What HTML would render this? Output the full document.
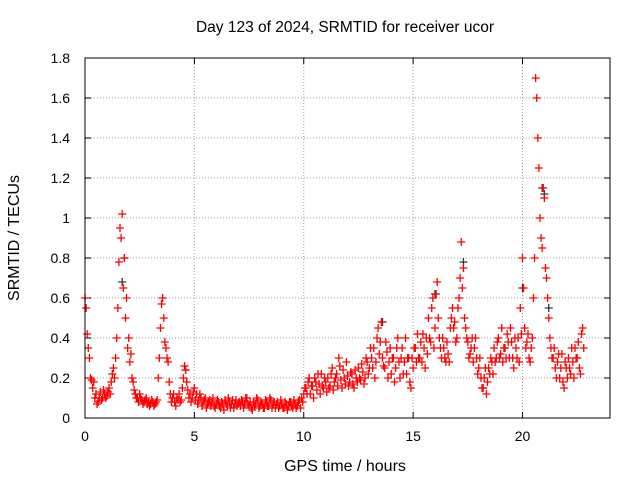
<!DOCTYPE html>
<html><head><meta charset="utf-8"><style>
body{margin:0;background:#fff;}
svg{display:block;font-family:"Liberation Sans",sans-serif;}
</style></head><body>
<svg id="chart" width="640" height="480">
<text x="345" y="32" text-anchor="middle" font-size="15.5">Day 123 of 2024, SRMTID for receiver ucor</text>
<text x="345" y="471" text-anchor="middle" font-size="16">GPS time / hours</text>
<text x="0" y="0" transform="translate(19,238) rotate(-90)" text-anchor="middle" font-size="16">SRMTID / TECUs</text>
<g id="grid"></g><g id="marks"></g>
<rect x="85" y="58" width="525" height="360" fill="none" stroke="#000" stroke-width="1"/>
</svg>
<script>
const xTicks=[0,5,10,15,20];
const yTicks=[0,0.2,0.4,0.6,0.8,1,1.2,1.4,1.6,1.8];
const yTickLabels=["0","0.2","0.4","0.6","0.8","1","1.2","1.4","1.6","1.8"];
const seriesAStart=0, step=0.1;
const seriesA=[0.6,0.42,0.3,0.19,0.18,0.12,0.08,0.13,0.1,0.12,0.11,
0.15,0.18,0.25,0.3,0.55,0.95,1.02,0.8,0.6,0.4,
0.32,0.18,0.12,0.1,0.12,0.09,0.08,0.1,0.08,0.07,
0.08,0.07,0.09,0.3,0.57,0.5,0.35,0.28,0.12,0.1,
0.08,0.1,0.12,0.09,0.2,0.24,0.14,0.12,0.1,0.15,
0.12,0.09,0.1,0.08,0.1,0.07,0.09,0.08,0.06,0.07,
0.08,0.05,0.07,0.09,0.06,0.08,0.07,0.05,0.09,0.07,
0.06,0.08,0.07,0.1,0.06,0.05,0.08,0.07,0.09,0.06,
0.07,0.05,0.08,0.06,0.09,0.07,0.05,0.08,0.06,0.07,
0.05,0.07,0.06,0.08,0.05,0.07,0.06,0.09,0.1,0.12,
0.15,0.18,0.12,0.16,0.2,0.14,0.17,0.22,0.15,0.18,
0.2,0.16,0.25,0.18,0.22,0.3,0.19,0.24,0.17,0.21,
0.18,0.22,0.15,0.2,0.25,0.19,0.23,0.2,0.28,0.25,
0.3,0.35,0.28,0.45,0.38,0.3,0.25,0.33,0.28,0.22,
0.3,0.25,0.4,0.2,0.35,0.28,0.22,0.3,0.15,0.25,
0.35,0.42,0.3,0.28,0.35,0.4,0.5,0.38,0.6,0.45,
0.68,0.4,0.3,0.35,0.28,0.32,0.45,0.55,0.48,0.4,
0.6,0.88,0.75,0.45,0.38,0.32,0.4,0.35,0.3,0.25,
0.2,0.15,0.25,0.18,0.22,0.28,0.35,0.3,0.4,0.32,
0.28,0.35,0.42,0.3,0.38,0.25,0.35,0.4,0.55,0.8,
0.45,0.38,0.3,0.35,0.6,1.7,1.4,1.0,0.85,1.1,
0.7,0.5,0.35,0.3,0.25,0.28,0.2,0.32,0.15,0.25,
0.3,0.22,0.28,0.35,0.3,0.25,0.42,0.35];
const seriesBStart=0.05;
const seriesB=[0.55,0.35,0.2,0.15,0.1,0.07,0.1,0.09,0.14,0.1,0.13,
0.12,0.22,0.2,0.4,0.78,0.9,0.65,0.5,0.35,0.28,
0.2,0.14,0.1,0.08,0.1,0.07,0.09,0.07,0.06,0.09,
0.06,0.08,0.2,0.45,0.6,0.38,0.3,0.18,0.08,0.12,
0.06,0.09,0.08,0.15,0.26,0.18,0.1,0.08,0.13,0.09,
0.07,0.12,0.06,0.09,0.05,0.08,0.06,0.1,0.05,0.09,
0.06,0.08,0.04,0.07,0.1,0.05,0.09,0.07,0.06,0.08,
0.09,0.05,0.1,0.07,0.08,0.04,0.06,0.1,0.05,0.08,
0.05,0.09,0.06,0.1,0.05,0.08,0.07,0.05,0.09,0.05,
0.08,0.04,0.08,0.06,0.09,0.05,0.08,0.05,0.08,0.15,
0.12,0.2,0.16,0.1,0.18,0.22,0.12,0.16,0.2,0.13,
0.15,0.22,0.14,0.2,0.16,0.26,0.15,0.2,0.28,0.16,
0.23,0.17,0.24,0.18,0.2,0.27,0.17,0.3,0.22,0.35,
0.25,0.2,0.4,0.32,0.48,0.26,0.38,0.2,0.35,0.3,
0.18,0.35,0.28,0.3,0.22,0.4,0.3,0.18,0.3,0.35,
0.28,0.3,0.38,0.42,0.25,0.32,0.4,0.55,0.35,0.62,
0.5,0.35,0.4,0.3,0.38,0.28,0.5,0.45,0.38,0.55,
0.7,0.65,0.5,0.4,0.3,0.35,0.28,0.4,0.22,0.3,
0.15,0.2,0.12,0.25,0.3,0.22,0.28,0.38,0.3,0.45,
0.35,0.3,0.38,0.45,0.3,0.4,0.3,0.28,0.42,0.65,
0.35,0.42,0.28,0.4,0.8,1.6,1.25,0.9,1.15,0.75,
0.6,0.4,0.3,0.35,0.2,0.32,0.25,0.18,0.28,0.2,
0.25,0.35,0.2,0.3,0.38,0.22,0.45];
const blackTimes=[1.7,1.8,4.6,13.6,16.0,17.3,20.0,20.9,21.0,21.2];
const blackValues=[0.68,0.8,0.24,0.48,0.62,0.78,0.65,1.15,1.12,0.55];

const X0=85,X1=610,Y0=418,Y1=58;
const xs=v=>X0+(v/24)*(X1-X0);
const ys=v=>Y0-(v/1.8)*(Y0-Y1);
const NS="http://www.w3.org/2000/svg";
const grid=document.getElementById('grid'), marks=document.getElementById('marks');
function mk(tag,attrs,parent){const e=document.createElementNS(NS,tag);for(const k in attrs)e.setAttribute(k,attrs[k]);parent.appendChild(e);return e;}
yTicks.forEach((v,i)=>{
  const y=ys(v);
  if(i>0&&i<yTicks.length-1){const g=mk('line',{x1:X0,x2:X1,y1:y,y2:y,stroke:'#a0a0a0','stroke-dasharray':'1,2'},grid);
  
  }
  const t=mk('line',{x1:X0,x2:X0+6,y1:y,y2:y,stroke:'#000'},grid);
  
  
  const t2=mk('line',{x1:X1-6,x2:X1,y1:y,y2:y,stroke:'#000'},grid);
  
  
  const l=mk('text',{x:X0-15,y:y+5,'text-anchor':'end','font-size':'14'},grid);
  l.textContent=yTickLabels[i];
  
  
});
xTicks.forEach(v=>{
  const x=xs(v);
  if(v>0){const g=mk('line',{x1:x,x2:x,y1:Y1,y2:Y0,stroke:'#a0a0a0','stroke-dasharray':'1,2'},grid);
  
  }
  const t=mk('line',{x1:x,x2:x,y1:Y0,y2:Y0-6,stroke:'#000'},grid);
  
  
  const t2=mk('line',{x1:x,x2:x,y1:Y1,y2:Y1+6,stroke:'#000'},grid);
  
  
  const l=mk('text',{x:x,y:Y0+23,'text-anchor':'middle','font-size':'14'},grid);
  l.textContent=String(v);
  
  
});
function plus(t,v,color){
  const x=xs(t),y=ys(v);
  const p=mk('path',{d:`M${x-4},${y}H${x+4}M${x},${y-4}V${y+4}`,stroke:color,'stroke-width':'1.3',fill:'none'},marks);
  return p;
}
blackTimes.forEach((t,i)=>{
  const p=plus(t,blackValues[i],'#333');
  
  
});
seriesA.forEach((v,i)=>{
  const p=plus(seriesAStart+i*step,v,'#ff0000');
  
  
});
seriesB.forEach((v,i)=>{
  const p=plus(seriesBStart+i*step,v,'#ff0000');
  
  
});
</script>
</body></html>
